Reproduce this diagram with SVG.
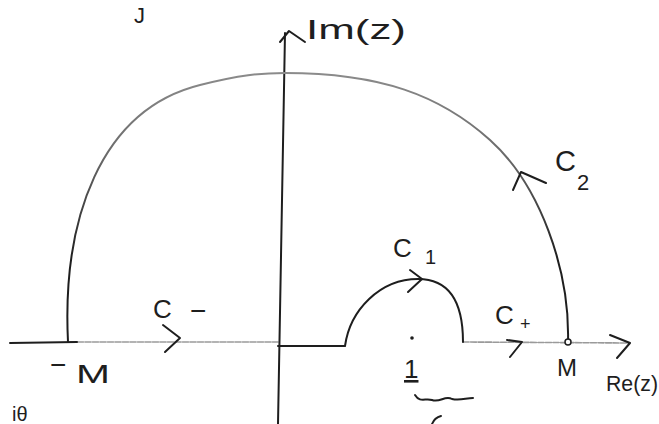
<svg xmlns="http://www.w3.org/2000/svg" width="659" height="424" viewBox="0 0 659 424">
<defs>
<linearGradient id="arcGrad" gradientUnits="userSpaceOnUse" x1="0" y1="70" x2="0" y2="260">
<stop offset="0" stop-color="#8c8c8c"/>
<stop offset="0.45" stop-color="#6a6a6a"/>
<stop offset="1" stop-color="#1e1e1e"/>
</linearGradient>
</defs>
<style>
.ink{fill:none;stroke:#1e1e1e;stroke-width:2;stroke-linecap:round;stroke-linejoin:round}
.faint{fill:none;stroke:#9a9a9a;stroke-width:1.6;stroke-dasharray:6 1.5;stroke-linecap:round}
.lbl{font-family:"Liberation Sans","DejaVu Sans",sans-serif;fill:#1e1e1e}
</style>
<rect width="659" height="424" fill="#ffffff"/>

<g id="axes">
<path class="faint" d="M70,342 L278,342"/>
<path class="faint" d="M463,342 L630,343"/>
<path class="ink" d="M10,343 L77,342"/>
<path class="ink" d="M610,335 L630,343 L617,358"/>
<path class="ink" d="M278,424 L285,33"/>
<path class="ink" d="M280,42 L289,31 L305,42"/>
</g>

<g id="connectors">
<path id="C2path" fill="none" stroke="url(#arcGrad)" stroke-width="2" stroke-linecap="round" d="M68,342 C 62,220 100,110 200,85 C 240,75 260,73 285,73 C 380,73 440,95 490,140 C 540,185 570,270 568,342"/>
<path class="ink" d="M278,346 L345,346 C 350,310 380,279 418,279 C 448,279 463,300 463,342"/>
<path class="ink" d="M513,190 L521,172 L546,183"/>
<path class="ink" d="M410,270 L422,279 L408,292"/>
<path class="ink" d="M163,325 L180,338 L165,352"/>
<path class="ink" d="M507,340 L522,342 L510,357"/>
</g>

<g id="point-M">
<circle cx="568" cy="342" r="3" fill="#ffffff" stroke="#1e1e1e" stroke-width="1.5"/>
<text class="lbl" x="557" y="376" font-size="24">M</text>
</g>
<g id="point-negM">
<text class="lbl" x="50" y="374" font-size="28">−</text>
<text class="lbl" x="76" y="383" font-size="26" textLength="34" lengthAdjust="spacingAndGlyphs">M</text>
</g>
<g id="point-1">
<circle cx="412" cy="338" r="1.8" fill="#1e1e1e"/>
<text class="lbl" x="404" y="378" font-size="26" text-decoration="underline">1</text>
<path class="ink" stroke-width="1.5" d="M415,395 C 420,403 425,398 432,400 C 440,403 445,395 452,399 C 460,401 466,398 473,398"/>
<path class="ink" stroke-width="1.5" d="M432,424 C 434,419 437,417 441,416"/>
</g>

<g id="label-Im">
<text class="lbl" x="306" y="39" font-size="28" textLength="100" lengthAdjust="spacingAndGlyphs">Im(z)</text>
</g>
<g id="label-Re">
<text class="lbl" x="606" y="391" font-size="22" textLength="52" lengthAdjust="spacingAndGlyphs">Re(z)</text>
</g>
<g id="label-C2">
<text class="lbl" x="555" y="171" font-size="29">C</text>
<text class="lbl" x="577" y="190" font-size="22">2</text>
</g>
<g id="label-C1">
<text class="lbl" x="393" y="257" font-size="26">C</text>
<text class="lbl" x="425" y="264" font-size="20">1</text>
</g>
<g id="label-Cminus">
<text class="lbl" x="153" y="318" font-size="26">C</text>
<text class="lbl" x="190" y="320" font-size="28">−</text>
</g>
<g id="label-Cplus">
<text class="lbl" x="495" y="324" font-size="26">C</text>
<text class="lbl" x="520" y="330" font-size="18">+</text>
</g>
<g id="fragments">
<text class="lbl" x="134" y="23" font-size="22">J</text>
<text class="lbl" x="12" y="421" font-size="20">iθ</text>
</g>
</svg>
